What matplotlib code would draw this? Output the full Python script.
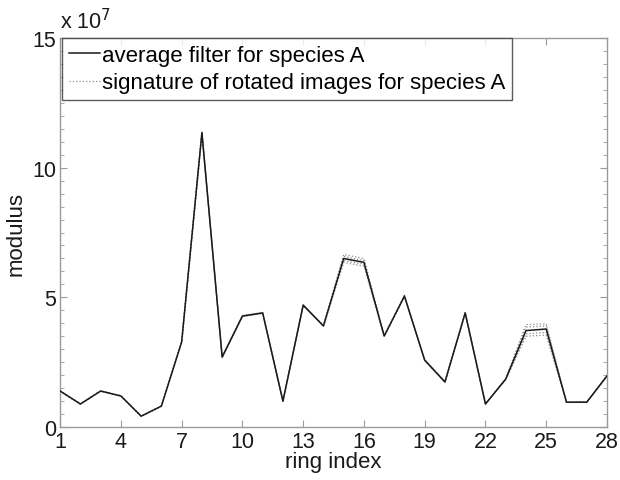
import matplotlib.pyplot as plt
import numpy as np
from matplotlib.ticker import MultipleLocator, FuncFormatter

plt.rcParams['font.family'] = ['Liberation Sans', 'DejaVu Sans']

# ring index 1..28
ring = np.arange(1, 29)

# average filter for species A (modulus)
avg_filter = [1.39e7, 0.89e7, 1.39e7, 1.20e7, 0.42e7, 0.81e7, 3.28e7, 11.35e7,
              2.70e7, 4.28e7, 4.40e7, 1.00e7, 4.70e7, 3.90e7, 6.50e7, 6.35e7,
              3.51e7, 5.05e7, 2.58e7, 1.74e7, 4.40e7, 0.89e7, 1.85e7, 3.72e7,
              3.78e7, 0.96e7, 0.96e7, 1.97e7]

# signatures of rotated images (a few rotations)
sig_1 = [1.38e7, 0.88e7, 1.40e7, 1.19e7, 0.43e7, 0.82e7, 3.30e7, 11.30e7,
         2.72e7, 4.30e7, 4.42e7, 1.02e7, 4.68e7, 3.92e7, 6.65e7, 6.50e7,
         3.53e7, 5.08e7, 2.60e7, 1.76e7, 4.42e7, 0.90e7, 1.87e7, 3.95e7,
         3.98e7, 0.95e7, 0.95e7, 1.98e7]
sig_2 = [1.40e7, 0.90e7, 1.38e7, 1.21e7, 0.41e7, 0.80e7, 3.26e7, 11.38e7,
         2.68e7, 4.26e7, 4.38e7, 0.99e7, 4.72e7, 3.88e7, 6.35e7, 6.20e7,
         3.49e7, 5.02e7, 2.56e7, 1.72e7, 4.38e7, 0.88e7, 1.83e7, 3.50e7,
         3.55e7, 0.97e7, 0.97e7, 1.96e7]
sig_3 = [1.39e7, 0.89e7, 1.39e7, 1.20e7, 0.42e7, 0.81e7, 3.28e7, 11.33e7,
         2.71e7, 4.29e7, 4.41e7, 1.01e7, 4.69e7, 3.91e7, 6.58e7, 6.42e7,
         3.52e7, 5.06e7, 2.59e7, 1.75e7, 4.41e7, 0.89e7, 1.86e7, 3.85e7,
         3.90e7, 0.96e7, 0.96e7, 1.97e7]
sig_4 = [1.39e7, 0.89e7, 1.39e7, 1.20e7, 0.42e7, 0.81e7, 3.27e7, 11.36e7,
         2.69e7, 4.27e7, 4.39e7, 1.00e7, 4.71e7, 3.89e7, 6.42e7, 6.28e7,
         3.50e7, 5.04e7, 2.57e7, 1.73e7, 4.39e7, 0.89e7, 1.84e7, 3.60e7,
         3.65e7, 0.96e7, 0.96e7, 1.97e7]

xticks = [1, 4, 7, 10, 13, 16, 19, 22, 25, 28]

fig = plt.figure(figsize=(6.2, 4.81), dpi=100)
ax = fig.add_axes([0.097, 0.110, 0.882, 0.809])

spine_col = '#9a9a9a'
ax.plot(ring, avg_filter, color='#1a1a1a', lw=1.1, zorder=3,
        label='average filter for species A')
for i, s in enumerate([sig_1, sig_2, sig_3, sig_4]):
    ax.plot(ring, s, color='#8a8a8a', lw=0.9, ls=':', zorder=2,
            label='signature of rotated images for species A' if i == 0 else None)

ax.set_xlim(1, 28)
ax.set_ylim(0, 15e7)
ax.set_xticks(xticks)
ax.yaxis.set_major_locator(MultipleLocator(5e7))
ax.yaxis.set_minor_locator(MultipleLocator(0.5e7))
ax.yaxis.set_major_formatter(FuncFormatter(lambda v, p: f'{v / 1e7:.0f}'))

ax.tick_params(which='both', direction='in', top=True, right=True,
               color=spine_col, labelsize=15.5, labelcolor='#1a1a1a', pad=3)
ax.tick_params(which='major', length=5)
ax.tick_params(which='minor', length=3)
for sp in ax.spines.values():
    sp.set_color(spine_col)
    sp.set_linewidth(1.0)

ax.text(0.0, 1.012, r'x 10$^7$', transform=ax.transAxes, fontsize=15.5,
        color='#1a1a1a', ha='left', va='bottom')

ax.set_xlabel('ring index', fontsize=16, color='#1a1a1a', labelpad=-1)
ax.set_ylabel('modulus', fontsize=16, color='#1a1a1a', labelpad=4)

leg = ax.legend(loc='upper left', bbox_to_anchor=(0.004, 1.0), fontsize=16,
                frameon=True, fancybox=False, handlelength=1.4, handletextpad=0.1,
                borderpad=0.3, labelspacing=0.3, borderaxespad=0)
leg.get_frame().set_edgecolor('#333333')
leg.get_frame().set_linewidth(1.0)

fig.savefig('out.png', dpi=100)
